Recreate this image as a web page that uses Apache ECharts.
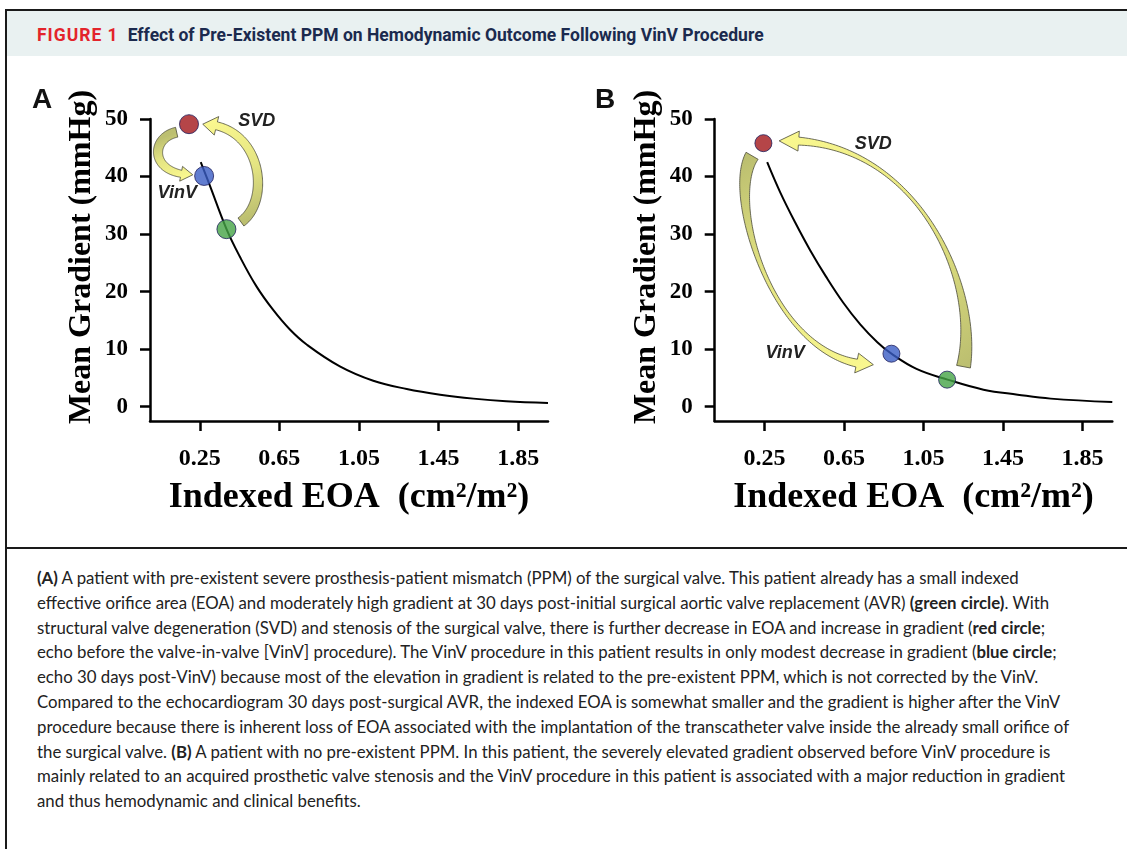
<!DOCTYPE html>
<html>
<head>
<meta charset="utf-8">
<script src="https://cdn.jsdelivr.net/npm/echarts@6.0.0/dist/echarts.min.js"></script>
<style>
  html, body { margin:0; padding:0; background:#fff; }
  body { width:1127px; height:849px; overflow:hidden; position:relative; }
  #frame { position:absolute; left:5px; top:9px; width:1200px; height:900px; border-top:2px solid #1a1a1a; border-left:2px solid #1a1a1a; box-sizing:border-box; }
  #header { position:absolute; left:7px; top:11px; width:1200px; height:45px; background:#e9f1f1; }
  #header .t { position:absolute; left:30px; top:14px; font-family:Roboto, 'Liberation Sans', sans-serif; font-weight:700; font-size:17.5px; color:#1b2a4e; white-space:nowrap; }
  #header .fig { color:#e3242b; letter-spacing:1px; margin-right:9px; }
  #sep { position:absolute; left:5px; top:547px; width:1200px; height:2px; background:#1a1a1a; }
  #caption { position:absolute; left:37px; top:566px; font-family:Lato, 'Noto Sans', sans-serif; font-size:16.8px; line-height:24.8px; color:#222; white-space:nowrap; }
  #chart { position:absolute; left:0; top:0; width:1127px; height:849px; }
</style>
</head>
<body>
<div id="frame"></div>
<div id="header"><div class="t"><span class="fig">FIGURE 1</span>Effect of Pre-Existent PPM on Hemodynamic Outcome Following VinV Procedure</div></div>
<div id="sep"></div>
<div id="caption">
<b>(A)</b> A patient with pre-existent severe prosthesis-patient mismatch (PPM) of the surgical valve. This patient already has a small indexed<br>
effective orifice area (EOA) and moderately high gradient at 30 days post-initial surgical aortic valve replacement (AVR) <b>(green circle)</b>. With<br>
structural valve degeneration (SVD) and stenosis of the surgical valve, there is further decrease in EOA and increase in gradient (<b>red circle</b>;<br>
echo before the valve-in-valve [VinV] procedure). The VinV procedure in this patient results in only modest decrease in gradient (<b>blue circle</b>;<br>
echo 30 days post-VinV) because most of the elevation in gradient is related to the pre-existent PPM, which is not corrected by the VinV.<br>
Compared to the echocardiogram 30 days post-surgical AVR, the indexed EOA is somewhat smaller and the gradient is higher after the VinV<br>
procedure because there is inherent loss of EOA associated with the implantation of the transcatheter valve inside the already small orifice of<br>
the surgical valve. <b>(B)</b> A patient with no pre-existent PPM. In this patient, the severely elevated gradient observed before VinV procedure is<br>
mainly related to an acquired prosthetic valve stenosis and the VinV procedure in this patient is associated with a major reduction in gradient<br>
and thus hemodynamic and clinical benefits.
</div>
<div id="chart"></div>
<script>
// ---------------- data ----------------
const xTickValues = [0.25, 0.65, 1.05, 1.45, 1.85];
const yTickValues = [0, 10, 20, 30, 40, 50];

// Panel A curve (indexed EOA vs mean gradient)
const curveA_eoa  = [0.255, 0.300, 0.384, 0.451, 0.535, 0.619, 0.703, 0.787, 0.954, 1.122, 1.290, 1.458, 1.625, 1.790, 2.000];
const curveA_grad = [42.5, 38.5, 30.9, 26.1, 20.9, 16.8, 13.4, 10.8, 7.0, 4.5, 3.07, 2.08, 1.39, 0.93, 0.64];
// Panel B curve
const curveB_eoa  = [0.264, 0.329, 0.405, 0.480, 0.560, 0.646, 0.732, 0.818, 0.889, 1.015, 1.171, 1.352, 1.524, 1.690, 2.000];
const curveB_grad = [42.5, 37.3, 32.0, 27.2, 22.6, 18.1, 14.3, 11.2, 9.2, 6.56, 4.7, 2.95, 2.08, 1.39, 0.80];

// Echo points: red = before VinV (SVD), blue = 30 days post-VinV, green = 30 days post-surgical AVR
const pointNames = ['Before VinV (SVD)', 'Post-VinV', 'Post-surgical AVR'];
const pointColors = ['#a3171a', '#3a5cc4', '#45a446'];
const pointsA_eoa  = [0.196, 0.272, 0.384];
const pointsA_grad = [49.1, 40.1, 30.85];
const pointsB_eoa  = [0.245, 0.889, 1.169];
const pointsB_grad = [45.8, 9.2, 4.69];

// Annotation arrows (cubic curves in data coordinates, tail -> tip)
const arrowsA = [
  { label: 'SVD',  pts: [[0.457, 32.1], [0.612, 35.9], [0.562, 49.0], [0.265, 49.1]], w: [10, 9, 8], head: [19, 13] },
  { label: 'VinV', pts: [[0.134, 47.7], [-0.002, 46.7], [-0.002, 40.3], [0.215, 40.3]], w: [10, 9, 7], head: [15, 11] }
];
const arrowsB = [
  { label: 'SVD',  pts: [[1.2515, 6.94], [1.338, 22.05], [0.995, 47.2], [0.324, 46.2]], w: [14, 3.5, 8], head: [20, 19] },
  { label: 'VinV', pts: [[0.188, 43.6], [0.052, 35.9], [0.304, 7.29], [0.798, 7.29]], w: [14, 4, 8], head: [20, 16] }
];
const labelsA = [['SVD', 0.537, 49.65], ['VinV', 0.137, 37.07]];
const labelsB = [['SVD', 0.798, 45.7], ['VinV', 0.354, 9.25]];

// ---------------- chart ----------------
const chart = echarts.init(document.getElementById('chart'), null, { renderer: 'canvas' });
const serif = "'Liberation Serif', 'Times New Roman', serif";
const sans = "'Liberation Sans', Arial, sans-serif";

function xAxisDef(gi) {
  return {
    type: 'value', gridIndex: gi, min: 0, max: 2,
    name: 'Indexed EOA  (cm²/m²)', nameLocation: 'middle', nameGap: 59,
    nameTextStyle: { fontFamily: serif, fontWeight: 'bold', fontSize: 36, color: '#000' },
    axisLine: { show: true, onZero: false, lineStyle: { color: '#000', width: 2.5 } },
    axisTick: { show: true, length: 10, inside: false, customValues: xTickValues, lineStyle: { color: '#000', width: 2.5 } },
    axisLabel: { customValues: xTickValues, formatter: v => v.toFixed(2), fontFamily: serif, fontWeight: 'bold', fontSize: 24, color: '#000', margin: 26 },
    splitLine: { show: false }
  };
}
function yAxisDef(gi) {
  return {
    type: 'value', gridIndex: gi, min: -2.5, max: 50,
    name: 'Mean Gradient (mmHg)', nameLocation: 'middle', nameGap: 52,
    nameTextStyle: { fontFamily: serif, fontWeight: 'bold', fontSize: 32, color: '#000', padding: [0, 0, 0, 26] },
    axisLine: { show: true, onZero: false, lineStyle: { color: '#000', width: 2.5 } },
    axisTick: { show: true, length: 10, inside: false, customValues: yTickValues, lineStyle: { color: '#000', width: 2.5 } },
    axisLabel: { customValues: yTickValues, fontFamily: serif, fontWeight: 'bold', fontSize: 23, color: '#000', margin: 22 },
    splitLine: { show: false }
  };
}
function zip(a, b) { return a.map((v, i) => [v, b[i]]); }
function pointData(xs, ys) {
  return xs.map((v, i) => ({ name: pointNames[i], value: [v, ys[i]], itemStyle: { color: pointColors[i] } }));
}

chart.setOption({
  animation: false,
  grid: [
    { left: 150, top: 119, width: 398, height: 302 },
    { left: 714.7, top: 119, width: 397.6, height: 302 }
  ],
  xAxis: [xAxisDef(0), xAxisDef(1)],
  yAxis: [yAxisDef(0), yAxisDef(1)],
  series: [
    { type: 'line', xAxisIndex: 0, yAxisIndex: 0, data: zip(curveA_eoa, curveA_grad), smooth: 0.4, showSymbol: false, lineStyle: { color: '#000', width: 2 }, z: 2 },
    { type: 'line', xAxisIndex: 1, yAxisIndex: 1, data: zip(curveB_eoa, curveB_grad), smooth: 0.4, showSymbol: false, lineStyle: { color: '#000', width: 2 }, z: 2 },
    { type: 'scatter', xAxisIndex: 0, yAxisIndex: 0, data: pointData(pointsA_eoa, pointsA_grad), symbolSize: 19, itemStyle: { borderColor: '#1f1f5c', borderWidth: 1 }, z: 5 },
    { type: 'scatter', xAxisIndex: 1, yAxisIndex: 1, data: pointData(pointsB_eoa, pointsB_grad), symbolSize: 17, itemStyle: { borderColor: '#1f1f5c', borderWidth: 1 }, z: 5 }
  ]
});

// ---------- arrows & labels (positioned through the axes' scales) ----------
function bez(p, t) {
  const u = 1 - t;
  return [
    u*u*u*p[0][0] + 3*u*u*t*p[1][0] + 3*u*t*t*p[2][0] + t*t*t*p[3][0],
    u*u*u*p[0][1] + 3*u*u*t*p[1][1] + 3*u*t*t*p[2][1] + t*t*t*p[3][1]
  ];
}
function arrowPolygon(P, w, head) {
  const N = 120, samples = [];
  let L = 0;
  for (let i = 0; i <= N; i++) {
    const q = bez(P, i / N);
    if (i > 0) { const pr = samples[i-1].p; L += Math.hypot(q[0]-pr[0], q[1]-pr[1]); }
    samples.push({ p: q, s: L });
  }
  const bodyLen = L - head[1];
  const left = [], right = [];
  let neck = null, neckN = null;
  for (let i = 0; i <= N; i++) {
    const sm = samples[i];
    if (sm.s > bodyLen) break;
    const a = samples[Math.max(0, i-1)].p, b = samples[Math.min(N, i+1)].p;
    let tx = b[0]-a[0], ty = b[1]-a[1]; const tl = Math.hypot(tx, ty) || 1; tx /= tl; ty /= tl;
    const nx = -ty, ny = tx;
    const u = sm.s / bodyLen;
    const ww = w[0]*(1-u)*(1-2*u) + w[1]*4*u*(1-u) + w[2]*u*(2*u-1);
    left.push([sm.p[0] + nx*ww/2, sm.p[1] + ny*ww/2]);
    right.push([sm.p[0] - nx*ww/2, sm.p[1] - ny*ww/2]);
    neck = sm.p; neckN = [nx, ny];
  }
  const tip = P[3];
  const lb = [neck[0] + neckN[0]*head[0]/2, neck[1] + neckN[1]*head[0]/2];
  const rb = [neck[0] - neckN[0]*head[0]/2, neck[1] - neckN[1]*head[0]/2];
  return left.concat([lb, tip, rb]).concat(right.reverse());
}

function buildGraphics() {
  const g = [];
  [[arrowsA, 0], [arrowsB, 1]].forEach(([arrs, gi]) => {
    arrs.forEach(a => {
      const P = a.pts.map(d => chart.convertToPixel({ gridIndex: gi }, d));
      const poly = arrowPolygon(P, a.w, a.head);
      g.push({
        type: 'polygon', z: 4,
        shape: { points: poly },
        style: {
          fill: { type: 'linear', x: P[0][0], y: P[0][1], x2: P[3][0], y2: P[3][1], global: true,
                  colorStops: [{ offset: 0, color: '#bcbf70' }, { offset: 0.45, color: '#e4e482' }, { offset: 1, color: '#faf88f' }] },
          stroke: '#4a4a3a', lineWidth: 0.8
        }
      });
    });
  });
  [[labelsA, 0], [labelsB, 1]].forEach(([labs, gi]) => {
    labs.forEach(l => {
      const p = chart.convertToPixel({ gridIndex: gi }, [l[1], l[2]]);
      g.push({ type: 'text', x: p[0], y: p[1], z: 6,
        style: { text: l[0], font: 'italic bold 18px ' + sans, fill: '#222', align: 'center', verticalAlign: 'middle' } });
    });
  });
  g.push({ type: 'text', left: 32, top: 86, style: { text: 'A', font: 'bold 28px ' + sans, fill: '#111' } });
  g.push({ type: 'text', left: 595, top: 86, style: { text: 'B', font: 'bold 28px ' + sans, fill: '#111' } });
  chart.setOption({ graphic: g });
}
buildGraphics();
</script>
</body>
</html>
